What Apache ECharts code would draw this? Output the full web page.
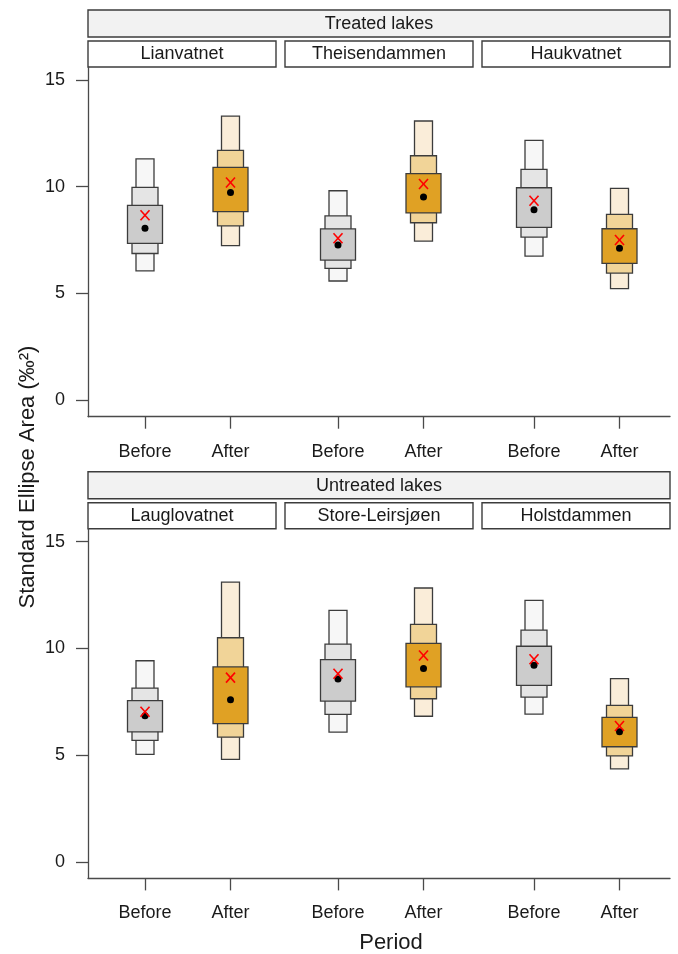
<!DOCTYPE html>
<html><head><meta charset="utf-8">
<script src="https://cdn.jsdelivr.net/npm/echarts@6/dist/echarts.min.js"></script>
<style>html,body{margin:0;padding:0;background:#fff}#c{width:678px;height:954px}</style>
</head><body><div id="c"></div>
<script>
// ---------- data ----------
const periods = ['Before', 'After'];
const panelTitles = ['Treated lakes', 'Untreated lakes'];
const treatedLakes = ['Lianvatnet', 'Theisendammen', 'Haukvatnet'];
const untreatedLakes = ['Lauglovatnet', 'Store-Leirsjøen', 'Holstdammen'];
const yTicks = [0, 5, 10, 15];
const xTitle = 'Period';
const yTitle = 'Standard Ellipse Area (‰²)';
// order: each lake Before, After; treated lakes then untreated lakes
const ci95Low  = [6.05, 7.24, 5.58, 7.45, 6.75, 5.22,  5.03, 4.80, 6.08, 6.82, 6.92, 4.35];
const ci95High = [11.30, 13.31, 9.81, 13.08, 12.17, 9.92,  9.42, 13.11, 11.78, 12.83, 12.25, 8.58];
const ci75Low  = [6.87, 8.16, 6.17, 8.31, 7.64, 5.95,  5.69, 5.84, 6.91, 7.64, 7.72, 4.96];
const ci75High = [9.97, 11.70, 8.63, 11.45, 10.81, 8.70,  8.14, 10.50, 10.20, 11.13, 10.86, 7.33];
const ci50Low  = [7.34, 8.83, 6.56, 8.77, 8.09, 6.41,  6.09, 6.47, 7.53, 8.20, 8.27, 5.39];
const ci50High = [9.12, 10.91, 8.02, 10.61, 9.95, 8.03,  7.55, 9.13, 9.47, 10.24, 10.10, 6.77];
const modes    = [8.05, 9.73, 7.27, 9.52, 8.92, 7.11,  6.84, 7.59, 8.56, 9.06, 9.21, 6.09];
const means    = [8.66, 10.20, 7.58, 10.13, 9.34, 7.50,  7.03, 8.63, 8.81, 9.67, 9.49, 6.36];

// ---------- style / layout ----------
const FONT = '"Liberation Sans", Arial, Helvetica, sans-serif';
const TXT = '#1a1a1a';
const LINE = '#4a4a4a';
const BOX = '#3c3c3c';
const fills = [
  ['#F7F7F7', '#E5E5E5', '#CCCCCC'],
  ['#FAEDD9', '#F1D498', '#E0A124']
];
const widths95 = 18, widths75 = 26, widths50 = 35;
const panelOffset = [0, 461.7];
const plotTop = 67, plotBottom = 416.7;
const yMin = -0.78, yMax = 15.61;
const facetLeft = [102.25, 295.25, 491.25], facetWidth = 171;
const stripX = [[88, 276], [285, 473], [482, 670]];

const grids = [], xAxes = [], yAxes = [], series = [], graphics = [];
const lakesByPanel = [treatedLakes, untreatedLakes];

for (let p = 0; p < 2; p++) {
  const off = panelOffset[p];
  const top = plotTop + off, height = plotBottom - plotTop;
  // frame grid (axis lines + y ticks)
  const fIdx = grids.length;
  grids.push({ left: 88, width: 582, top: top, height: height, containLabel: false });
  xAxes.push({ gridIndex: fIdx, type: 'value', min: 0, max: 1, position: 'bottom',
    axisLine: { show: true, onZero: false, lineStyle: { color: LINE, width: 1.3 } },
    axisTick: { show: false }, axisLabel: { show: false }, splitLine: { show: false } });
  yAxes.push({ gridIndex: fIdx, type: 'value', min: yMin, max: yMax, position: 'left',
    axisLine: { show: true, onZero: false, lineStyle: { color: LINE, width: 1.3 } },
    axisTick: { show: true, length: 12, customValues: yTicks, lineStyle: { color: LINE, width: 1.3 } },
    axisLabel: { show: true, customValues: yTicks, margin: 23, fontSize: 18, fontFamily: FONT, color: TXT },
    splitLine: { show: false } });
  // facet grids
  for (let f = 0; f < 3; f++) {
    const gi = grids.length;
    grids.push({ left: facetLeft[f], width: facetWidth, top: top, height: height });
    xAxes.push({ gridIndex: gi, type: 'category', data: periods, position: 'bottom',
      axisLine: { show: false, onZero: false },
      axisTick: { show: true, length: 12, alignWithLabel: true, lineStyle: { color: LINE, width: 1.3 } },
      axisLabel: { show: true, margin: 26, fontSize: 18, fontFamily: FONT, color: TXT } });
    yAxes.push({ gridIndex: gi, type: 'value', min: yMin, max: yMax, show: false });
    const data = periods.map((per, k) => {
      const i = p * 6 + f * 2 + k;
      return [k, ci95Low[i], ci95High[i], ci75Low[i], ci75High[i], ci50Low[i], ci50High[i], modes[i], means[i]];
    });
    series.push({
      type: 'custom', xAxisIndex: gi, yAxisIndex: gi, data: data,
      renderItem: function (params, api) {
        const k = api.value(0);
        const cx = api.coord([k, 0])[0];
        const yy = v => api.coord([k, v])[1];
        const c = fills[k];
        const rect = (lo, hi, w, fill) => ({ type: 'rect',
          shape: { x: cx - w / 2, y: yy(hi), width: w, height: yy(lo) - yy(hi) },
          style: { fill: fill, stroke: BOX, lineWidth: 1.3 } });
        const my = yy(api.value(8));
        return { type: 'group', children: [
          rect(api.value(1), api.value(2), widths95, c[0]),
          rect(api.value(3), api.value(4), widths75, c[1]),
          rect(api.value(5), api.value(6), widths50, c[2]),
          { type: 'circle', shape: { cx: cx, cy: yy(api.value(7)), r: 3.5 }, style: { fill: '#000' } },
          { type: 'line', shape: { x1: cx - 4.5, y1: my - 5, x2: cx + 4.5, y2: my + 5 }, style: { stroke: '#FF0000', lineWidth: 1.6 } },
          { type: 'line', shape: { x1: cx + 4.5, y1: my - 5, x2: cx - 4.5, y2: my + 5 }, style: { stroke: '#FF0000', lineWidth: 1.6 } }
        ] };
      }
    });
    // lake strip
    graphics.push({ type: 'rect', shape: { x: stripX[f][0], y: 41 + off, width: stripX[f][1] - stripX[f][0], height: 26 },
      style: { fill: '#ffffff', stroke: BOX, lineWidth: 1.4 } });
    graphics.push({ type: 'text', x: (stripX[f][0] + stripX[f][1]) / 2, y: 54.5 + off,
      style: { text: lakesByPanel[p][f], fontSize: 18, fontFamily: FONT, fill: TXT, align: 'center', verticalAlign: 'middle', textAlign: 'center', textVerticalAlign: 'middle' } });
  }
  // panel strip
  graphics.push({ type: 'rect', shape: { x: 88, y: 10 + off, width: 582, height: 27 },
    style: { fill: '#F2F2F2', stroke: BOX, lineWidth: 1.4 } });
  graphics.push({ type: 'text', x: 379, y: 24 + off,
    style: { text: panelTitles[p], fontSize: 18, fontFamily: FONT, fill: TXT, align: 'center', verticalAlign: 'middle', textAlign: 'center', textVerticalAlign: 'middle' } });
}
graphics.push({ type: 'text', x: 391, y: 943,
  style: { text: xTitle, fontSize: 22, fontFamily: FONT, fill: TXT, align: 'center', verticalAlign: 'middle', textAlign: 'center', textVerticalAlign: 'middle' } });
graphics.push({ type: 'text', x: 28, y: 477, rotation: Math.PI / 2,
  style: { text: yTitle, fontSize: 22, fontFamily: FONT, fill: TXT, align: 'center', verticalAlign: 'middle', textAlign: 'center', textVerticalAlign: 'middle' } });

const chart = echarts.init(document.getElementById('c'), null, { renderer: 'canvas' });
chart.setOption({
  animation: false,
  backgroundColor: '#ffffff',
  grid: grids, xAxis: xAxes, yAxis: yAxes, series: series, graphic: graphics
});
</script></body></html>
